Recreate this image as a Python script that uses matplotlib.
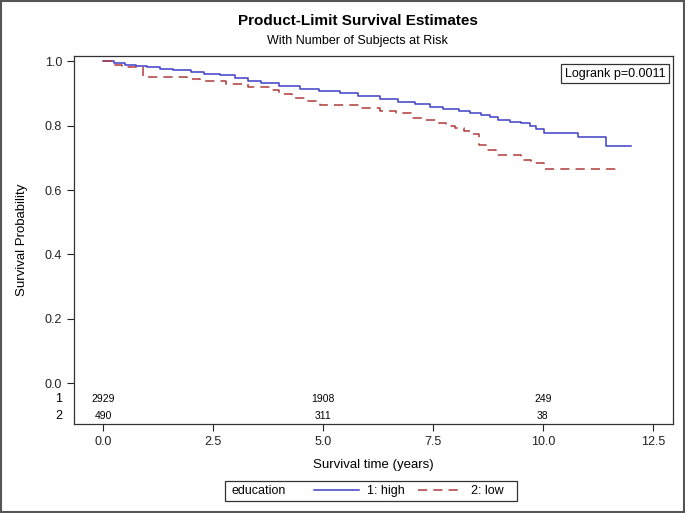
import matplotlib
matplotlib.use('Agg')
import matplotlib.pyplot as plt
from matplotlib.lines import Line2D
from matplotlib.patches import Rectangle

plt.rcParams['font.family'] = ['Liberation Sans', 'DejaVu Sans']

# Kaplan-Meier step points
high_time = [0.0, 0.25, 0.5, 0.75, 1.0, 1.3, 1.6, 2.0, 2.3, 2.66, 3.0, 3.3, 3.6, 4.0,
             4.47, 4.9, 5.39, 5.8, 6.3, 6.7, 7.1, 7.43, 7.73, 8.1, 8.35, 8.6, 8.8,
             8.97, 9.25, 9.5, 9.7, 9.85, 10.03, 10.8, 11.43, 12.0]
high_surv = [1.0, 0.995, 0.990, 0.985, 0.981, 0.977, 0.972, 0.966, 0.962, 0.958, 0.947,
             0.940, 0.934, 0.925, 0.914, 0.908, 0.901, 0.893, 0.883, 0.875, 0.867, 0.859,
             0.852, 0.846, 0.840, 0.834, 0.826, 0.818, 0.812, 0.808, 0.800, 0.790, 0.777,
             0.764, 0.737, 0.737]
low_time = [0.0, 0.2, 0.43, 0.9, 1.9, 2.2, 2.8, 3.3, 3.8, 4.0, 4.3, 4.6, 4.93, 5.84,
            6.3, 6.66, 7.05, 7.3, 7.57, 7.8, 8.0, 8.2, 8.37, 8.55, 8.7, 8.93, 9.5, 9.73,
            10.03, 11.66]
low_surv = [1.0, 0.990, 0.981, 0.953, 0.946, 0.940, 0.929, 0.920, 0.911, 0.899, 0.886,
            0.876, 0.865, 0.854, 0.846, 0.839, 0.825, 0.818, 0.810, 0.800, 0.792, 0.783,
            0.774, 0.740, 0.725, 0.709, 0.694, 0.684, 0.666, 0.666]

# numbers at risk
risk_times = [0, 5, 10]
risk_high = [2929, 1908, 249]
risk_low = [490, 311, 38]

blue = '#3F3FC8'
red = '#B03A3A'

fig = plt.figure(figsize=(6.85, 5.13), dpi=100)
ax = fig.add_axes([0.108, 0.1735, 0.874, 0.7175])

ax.step(high_time, high_surv, where='post', color=blue, linewidth=1.1)
ax.step(low_time, low_surv, where='post', color=red, linewidth=1.1,
        linestyle=(0, (6, 4)))

ax.set_xlim(-0.66, 12.95)
ax.set_ylim(-0.127, 1.017)
ax.set_xticks([0, 2.5, 5, 7.5, 10, 12.5])
ax.set_xticklabels(['0.0', '2.5', '5.0', '7.5', '10.0', '12.5'])
ax.set_yticks([0, 0.2, 0.4, 0.6, 0.8, 1.0])
ax.set_yticklabels(['0.0', '0.2', '0.4', '0.6', '0.8', '1.0'])
ax.tick_params(labelsize=9, colors='#222222', length=5, width=0.8)
for s in ax.spines.values():
    s.set_color('#333333')
    s.set_linewidth(0.9)

ax.set_xlabel('Survival time (years)', fontsize=9.5, labelpad=8)
ax.set_ylabel('Survival Probability', fontsize=9.5, labelpad=12)

# at-risk table inside the axes
for t, h, l in zip(risk_times, risk_high, risk_low):
    ax.text(t, -0.05, str(h), ha='center', va='center', fontsize=7.5)
    ax.text(t, -0.102, str(l), ha='center', va='center', fontsize=7.5)
tr = ax.get_yaxis_transform()
ax.text(-0.02, -0.05, '1', transform=tr, ha='right', va='center', fontsize=9)
ax.text(-0.02, -0.102, '2', transform=tr, ha='right', va='center', fontsize=9)

ax.text(0.988, 0.968, 'Logrank p=0.0011', transform=ax.transAxes, ha='right',
        va='top', fontsize=9,
        bbox=dict(boxstyle='square,pad=0.3', facecolor='white', edgecolor='#333333',
                  linewidth=0.9))

fig.text(0.522, 0.96, 'Product-Limit Survival Estimates', ha='center', va='center',
         fontsize=11, fontweight='bold')
fig.text(0.522, 0.92, 'With Number of Subjects at Risk', ha='center', va='center',
         fontsize=9)

# legend: title inline with the entries, one box around all of it
handles = [Line2D([], [], color=blue, linewidth=1.1),
           Line2D([], [], color=red, linewidth=1.1, linestyle=(0, (6, 4)))]
fig.legend(handles, ['1: high', '2: low'], loc='center left',
           bbox_to_anchor=(303 / 685, 1 - 491 / 513), ncol=2, fontsize=9,
           frameon=False, handlelength=3.6, columnspacing=1.1, handletextpad=0.6)
fig.text(231 / 685, 1 - 491 / 513, 'education', ha='left', va='center', fontsize=9)
fig.patches.append(Rectangle((225 / 685, 1 - 501 / 513), 292 / 685, 20 / 513,
                             transform=fig.transFigure, fill=False,
                             edgecolor='#333333', linewidth=0.9))

fig.patches.append(Rectangle((0.002, 0.002), 0.996, 0.996, transform=fig.transFigure,
                             fill=False, edgecolor='#555555', linewidth=1.5))

fig.savefig('out.png', dpi=100)
